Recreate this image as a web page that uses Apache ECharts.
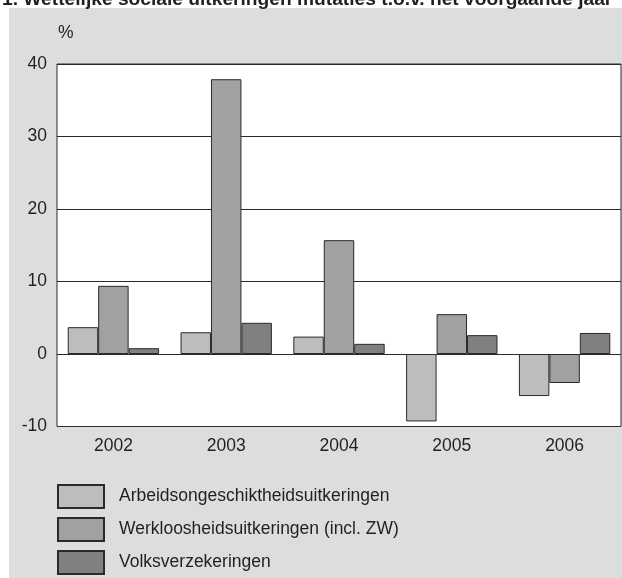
<!DOCTYPE html>
<html>
<head>
    <meta charset="UTF-8">
    <title>Wettelijke sociale uitkeringen</title>
    <script src="https://cdn.jsdelivr.net/npm/echarts@6/dist/echarts.min.js"></script>
    <style>
        html, body { margin: 0; padding: 0; background: #fff; }
        #main { width: 622px; height: 578px; }
    </style>
</head>
<body>
<div id="main"></div>
<script>
    // jaren
    var years = ['2002', '2003', '2004', '2005', '2006'];
    // mutaties t.o.v. voorgaand jaar, %
    var arbeidsongeschikt = [3.7, 3.0, 2.4, -9.3, -5.8];
    var werkloosheid = [9.4, 37.9, 15.7, 5.5, -4.0];
    var volksverzekeringen = [0.8, 4.3, 1.4, 2.6, 2.9];
    var seriesNames = [
        'Arbeidsongeschiktheidsuitkeringen',
        'Werkloosheidsuitkeringen (incl. ZW)',
        'Volksverzekeringen'
    ];
    var yTicks = [-10, 0, 10, 20, 30, 40];

    var font = "'Liberation Sans', Arial, sans-serif";
    var ink = '#231f20';
    var fs = 17.5;

    function bar(name, data, color) {
        return {
            name: name,
            type: 'bar',
            data: data,
            barGap: '0%',
            barCategoryGap: '19%',
            itemStyle: { color: color, borderColor: '#2a2a2a', borderWidth: 1 }
        };
    }

    var chart = echarts.init(document.getElementById('main'), null, {renderer: 'canvas'});
    chart.setOption({
        animation: false,
        backgroundColor: '#fff',
        textStyle: { fontFamily: font },
        graphic: [
            {
                type: 'rect', silent: true, z: -10,
                shape: { x: 9, y: 8, width: 613, height: 570 },
                style: { fill: '#dcdddf' }
            },
            {
                type: 'text', silent: true,
                x: 2, y: 9,
                style: {
                    text: '1. Wettelijke sociale uitkeringen mutaties t.o.v. het voorgaande jaar',
                    font: 'bold 19.2px ' + font,
                    fill: ink,
                    verticalAlign: 'bottom'
                }
            }
        ],
        grid: {
            left: 57, right: 1, top: 64, bottom: 151.5,
            show: true, backgroundColor: '#fff',
            borderColor: '#2a2a2a', borderWidth: 1
        },
        legend: {
            orient: 'vertical',
            left: 57, top: 484, height: 120,
            padding: 0,
            itemWidth: 46, itemHeight: 23, itemGap: 8,
            icon: 'rect',
            textStyle: { fontSize: fs, color: ink, fontFamily: font, lineHeight: 12, padding: [10, 0, 0, 10] },
            data: seriesNames
        },
        xAxis: {
            type: 'category',
            data: years,
            axisLine: { show: false },
            axisTick: { show: false },
            axisLabel: { fontSize: fs, color: ink, margin: 11 }
        },
        yAxis: {
            type: 'value',
            min: yTicks[0], max: yTicks[yTicks.length - 1], interval: 10,
            name: '%',
            nameGap: 22,
            nameTextStyle: { fontSize: fs, color: ink, align: 'left', padding: [0, 0, 0, 1] },
            axisLine: { show: false },
            axisTick: { show: false },
            axisLabel: { fontSize: fs, color: ink, margin: 10 },
            splitLine: { lineStyle: { color: '#2a2a2a', width: 1 } }
        },
        series: [
            bar(seriesNames[0], arbeidsongeschikt, '#bcbdbf'),
            bar(seriesNames[1], werkloosheid, '#a0a1a3'),
            bar(seriesNames[2], volksverzekeringen, '#7f8082')
        ]
    });
</script>
</body>
</html>
